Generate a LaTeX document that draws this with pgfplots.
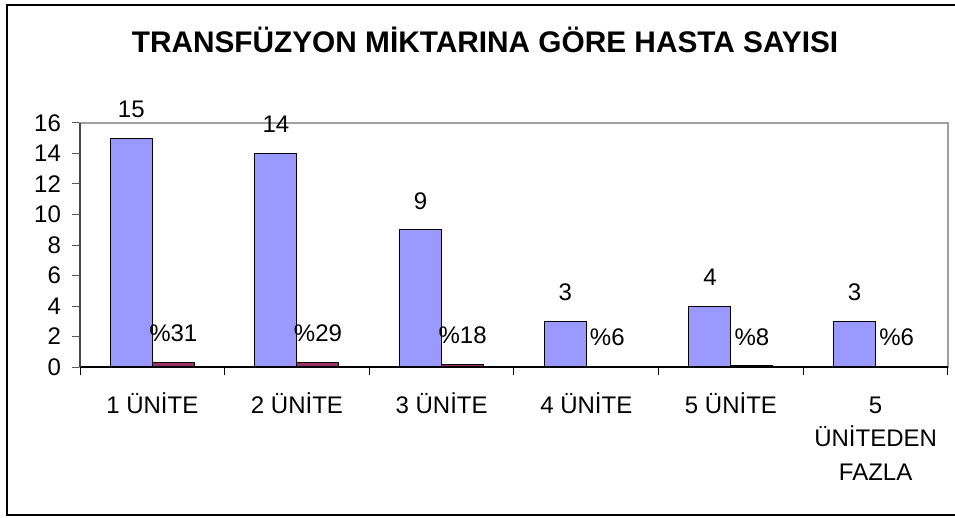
\documentclass[border=0pt]{standalone}
\usepackage{fontspec}
\setmainfont{Liberation Sans}
\usepackage{pgfplots}
\pgfplotsset{compat=1.18}
\definecolor{bluebar}{HTML}{9999FF}
\definecolor{redbar}{HTML}{993366}
\begin{document}
\begin{tikzpicture}
\useasboundingbox (0,0) rectangle (477.5pt,-259pt);
\draw[line width=1pt] (3.5pt,-2.5pt) rectangle (490pt,-257.5pt);
\node[anchor=base, inner sep=0pt, font=\fontsize{14.9}{17}\selectfont\bfseries] at (242.5pt,-26.5pt) {TRANSFÜZYON MİKTARINA GÖRE HASTA SAYISI};
\begin{axis}[
  at={(40pt,-183.5pt)}, anchor=south west,
  scale only axis, width=434pt, height=122pt,
  clip=false,
  xmin=-0.5, xmax=5.5, ymin=0, ymax=16,
  ybar=0pt, bar width=21pt,
  /pgf/number format/assume math mode=true,
  ytick={0,2,...,16},
  ytick pos=left, xtick pos=bottom,
  tick align=outside,
  major tick length=4pt, minor tick length=4pt,
  yticklabel style={font=\fontsize{12}{14}\selectfont, xshift=-2pt},
  ytick style={draw=gray!70!black, line width=0.5pt},
  xtick={0,...,5},
  xticklabels={{\rule{0pt}{11pt}1 ÜNİTE}, {\rule{0pt}{11pt}2 ÜNİTE}, {\rule{0pt}{11pt}3 ÜNİTE}, {\rule{0pt}{11pt}4 ÜNİTE}, {\rule{0pt}{11pt}5 ÜNİTE}, {\rule{0pt}{11pt}5\\ÜNİTEDEN\\FAZLA}},
  xticklabel style={align=center, font=\fontsize{12}{16.75}\selectfont, anchor=north, inner sep=0pt, yshift=-8pt},
  major x tick style={draw=none},
  minor xtick={-0.5,0.5,...,5.5},
  minor x tick style={draw=black, line width=0.5pt},
  axis line style={draw=gray!75, line width=0.7pt},
  nodes near coords,
  point meta=explicit symbolic,
  every node near coord/.append style={font=\fontsize{12}{14}\selectfont, inner sep=0pt, anchor=south, yshift=10pt},
]
\addplot[fill=bluebar, draw=black, line width=0.5pt] coordinates {
  (0,15) [15] (1,14) [14] (2,9) [9] (3,3) [3] (4,4) [4] (5,3) [3]
};
\addplot[fill=redbar, draw=black, line width=0.5pt] coordinates {
  (0,0.31) [\%31] (1,0.29) [\%29] (2,0.18) [\%18] (3,0.06) [\%6] (4,0.08) [\%8] (5,0.06) [\%6]
};
\draw[black, line width=0.7pt] (rel axis cs:0,0) -- (rel axis cs:1,0);
\draw[gray!55!black, line width=0.7pt] (rel axis cs:0,0) -- (rel axis cs:0,1);
\end{axis}
\end{tikzpicture}
\end{document}
